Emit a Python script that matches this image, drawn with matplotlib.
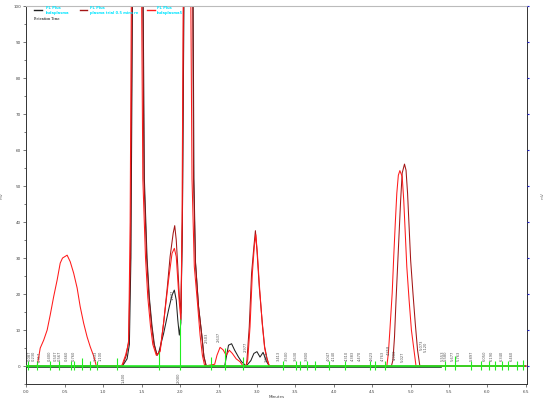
import matplotlib
matplotlib.use("Agg")
import matplotlib.pyplot as plt
from matplotlib.ticker import MultipleLocator

# traces (minutes, mV)
black_pts = [(0.0, 0), (1.25, 0), (1.31, 2), (1.34, 6), (1.36, 30), (1.38, 100), (1.42, 200),
             (1.455, 260), (1.49, 200), (1.52, 100), (1.535, 52), (1.57, 30), (1.60, 19),
             (1.635, 11), (1.665, 6), (1.70, 3), (1.72, 3.6), (1.785, 9), (1.85, 15.6),
             (1.895, 19.7), (1.925, 21.1), (1.95, 18.3), (1.97, 12.8), (1.99, 8.6), (2.01, 12),
             (2.03, 40), (2.05, 100), (2.08, 200), (2.11, 260), (2.14, 200), (2.17, 100),
             (2.18, 52), (2.20, 29), (2.24, 16.5), (2.285, 8), (2.31, 2.6), (2.34, 0),
             (2.58, 0), (2.63, 5.8), (2.67, 6.2), (2.71, 4.4), (2.76, 2.5), (2.80, 1.2),
             (2.86, 0), (2.92, 1.5), (2.96, 3.5), (3.0, 4), (3.04, 2.5), (3.08, 3.8),
             (3.12, 1.5), (3.16, 0), (6.5, 0)]

darkred_pts = [(0.0, 0), (1.25, 0), (1.30, 3), (1.33, 7), (1.355, 30), (1.375, 100), (1.41, 200),
               (1.45, 260), (1.49, 200), (1.515, 100), (1.53, 52), (1.565, 30), (1.595, 19),
               (1.63, 11), (1.66, 6), (1.70, 3), (1.74, 4.4), (1.785, 11.9), (1.83, 21.1),
               (1.87, 30.4), (1.91, 36.9), (1.93, 39), (1.95, 35), (1.97, 27.6), (1.99, 19.3),
               (2.01, 14.7), (2.03, 40), (2.045, 100), (2.08, 200), (2.11, 260), (2.14, 200),
               (2.165, 100), (2.175, 52), (2.20, 28.6), (2.24, 16.5), (2.285, 8.1), (2.31, 2.6),
               (2.34, 0), (2.86, 0), (2.87, 1.7), (2.90, 10.9), (2.93, 25.7), (2.96, 33.1),
               (2.98, 37.6), (3.00, 32.2), (3.03, 22), (3.07, 11.9), (3.10, 5.4), (3.13, 2.2),
               (3.16, 0), (4.75, 0), (4.77, 1.7), (4.79, 8.1), (4.81, 18.3), (4.83, 27.6),
               (4.85, 36.9), (4.87, 46.1), (4.89, 53.6), (4.92, 56.1), (4.94, 54.4), (4.96, 48),
               (4.98, 38.7), (5.00, 29.4), (5.03, 20.3), (5.06, 11.9), (5.09, 4.4), (5.12, 0),
               (6.5, 0)]

red_pts = [(0.0, 0), (0.14, 0), (0.18, 5), (0.225, 7.2), (0.27, 10), (0.31, 14.2), (0.355, 19.3),
           (0.40, 23.9), (0.44, 28.6), (0.47, 30), (0.53, 30.8), (0.57, 29), (0.615, 25.8),
           (0.66, 21.7), (0.70, 16.5), (0.745, 11.9), (0.79, 8.1), (0.83, 5.4), (0.875, 2.8),
           (0.91, 0), (1.22, 0), (1.245, 0.3), (1.29, 3), (1.33, 6.4), (1.35, 40), (1.365, 100),
           (1.40, 200), (1.44, 260), (1.48, 200), (1.50, 100), (1.515, 52), (1.55, 30),
           (1.58, 19), (1.615, 11), (1.645, 6), (1.69, 3), (1.74, 4), (1.79, 12.8), (1.85, 23.9),
           (1.895, 31.3), (1.925, 32.7), (1.95, 30.4), (1.97, 23.9), (1.99, 17.5), (2.01, 12.8),
           (2.025, 40), (2.04, 100), (2.07, 200), (2.10, 260), (2.125, 200), (2.14, 100),
           (2.155, 52), (2.185, 27.6), (2.23, 16.5), (2.26, 8.6), (2.29, 3), (2.32, 0),
           (2.45, 0.5), (2.48, 3), (2.52, 5.2), (2.56, 4.5), (2.60, 3), (2.64, 4.4), (2.68, 3.5),
           (2.73, 2), (2.78, 1.2), (2.82, 0), (2.86, 0), (2.88, 1.7), (2.91, 10.9), (2.94, 25.7),
           (2.965, 33), (2.985, 36.5), (3.005, 31.5), (3.035, 21.5), (3.07, 11.5), (3.10, 5),
           (3.13, 2), (3.16, 0), (4.69, 0), (4.71, 3.5), (4.73, 10), (4.76, 20.3), (4.78, 30.4),
           (4.80, 39.6), (4.82, 48), (4.84, 53), (4.86, 54.3), (4.89, 52.6), (4.91, 46.1),
           (4.93, 36.9), (4.95, 27.6), (4.98, 18.3), (5.01, 10), (5.04, 5), (5.07, 0), (6.5, 0)]

series_names = ["FL Plus\nIndaplasma", "FL Plus\nplasma trial 0.5 mins re", "FL Plus\nIndaplasma5"]
series_colors = ["#222222", "#a31515", "#ff1a1a"]

# integration event marks (minutes, top in mV)
mark_t = [0.02, 0.14, 0.31, 0.43, 0.58, 0.62, 0.73, 0.83, 0.92, 1.18, 1.72, 2.00, 2.40, 2.58,
          2.82, 3.34, 3.51, 3.56, 3.65, 3.75, 3.94, 4.15, 4.47, 4.53, 4.67, 5.45, 5.58, 5.79,
          5.92, 6.02, 6.10, 6.19, 6.27, 6.39, 6.46]
mark_top = [1.4, 1.4, 1.4, 1.4, 1.4, 1.4, 2.2, 1.4, 1.4, 2.2, 4.0, 13.0, 2.5, 5.0,
            2.5, 1.4, 1.4, 1.4, 1.4, 1.4, 1.4, 1.4, 1.4, 1.4, 1.4, 1.4, 2.8, 1.4,
            1.4, 1.4, 1.4, 1.4, 1.4, 1.4, 1.6]

# retention time labels: text, x (minutes), bottom y (mV)
rt_text = ["0.087", "0.230", "0.317", "0.400", "0.507", "0.567", "0.660", "0.760", "1.033",
           "1.100", "1.400", "1.977", "2.000", "2.503", "2.637", "2.977", "3.063", "3.413",
           "3.500", "3.630", "3.800", "4.047", "4.140", "4.310", "4.383", "4.470", "4.623",
           "4.763", "4.858", "4.900", "5.027", "5.073", "5.120", "5.553", "5.580", "5.677",
           "5.763", "5.897", "6.050", "6.190", "6.340", "6.460"]
rt_x = [0.04, 0.095, 0.17, 0.31, 0.38, 0.43, 0.53, 0.62, 0.90, 0.96, 1.27, 1.90, 1.98, 2.35,
        2.50, 2.85, 3.13, 3.28, 3.39, 3.51, 3.65, 3.93, 4.00, 4.17, 4.25, 4.34, 4.50, 4.64,
        4.71, 4.79, 4.90, 5.14, 5.20, 5.42, 5.46, 5.55, 5.63, 5.80, 5.96, 6.06, 6.19, 6.32]
rt_y = [1.5, 1.5, 1.1, 1.5, 1.5, 1.5, 1.5, 1.5, 1.5, 1.5, -1.7, 18.3, -1.7, 6.4, 6.7, 3.9, 1.1,
        1.5, 1.5, 1.5, 1.5, 1.5, 1.5, 1.5, 1.5, 1.5, 1.5, 1.5, 3.0, 1.7, 1.2, 4.4, 3.8, 1.5,
        1.5, 1.5, 1.5, 1.5, 1.5, 1.5, 1.5, 1.5]

fig = plt.figure(figsize=(5.5, 4.03), dpi=100)
ax = fig.add_axes([0.048, 0.047, 0.911, 0.938])

for pts, col in zip([black_pts, darkred_pts, red_pts], series_colors):
    t = [p[0] for p in pts]
    v = [p[1] for p in pts]
    ax.plot(t, v, color=col, lw=0.75, zorder=2)

# baseline: dark underlay with bright green on top
ax.plot([0.0, 5.4], [-0.25, -0.25], color="#1f4a1f", lw=1.2, zorder=3)
ax.plot([0.0, 6.48], [0.15, 0.15], color="#22ee22", lw=1.2, zorder=3)
ax.vlines(mark_t, -1.1, mark_top, color="#22ee22", lw=0.8, zorder=3)

for s, x, y in zip(rt_text, rt_x, rt_y):
    va = "top" if y < 0 else "bottom"
    ax.text(x, y, s, rotation=90, fontsize=2.6, color="#555555", ha="center", va=va, zorder=4)

# legend drawn by hand, like the instrument software
hx = [(0.015, 0.031), (0.107, 0.121), (0.241, 0.257)]
tx = [0.039, 0.127, 0.260]
for (x0, x1), x, name, col in zip(hx, tx, series_names, series_colors):
    ax.plot([x0, x1], [0.989, 0.989], color=col, lw=1.0, transform=ax.transAxes, clip_on=False)
    ax.text(x, 0.989, name, transform=ax.transAxes, fontsize=2.6, color="#00e5ff",
            fontweight="bold", va="center", ha="left", linespacing=1.3)
ax.text(0.015, 0.965, "Retention Time", transform=ax.transAxes, fontsize=2.3,
        family="serif", va="center", ha="left")

ax.set_xlim(0.0, 6.52)
ax.set_ylim(-5, 100)
ax.xaxis.set_major_locator(MultipleLocator(0.5))
ax.yaxis.set_major_locator(MultipleLocator(10))
ax.yaxis.set_minor_locator(MultipleLocator(5))
ax.xaxis.set_major_formatter(plt.FormatStrFormatter("%.1f"))
ax.tick_params(axis="both", which="major", labelsize=3, length=2.5, width=0.5,
               colors="#444444", pad=1.5)
ax.tick_params(axis="y", which="minor", length=1.5, width=0.5, colors="#444444")
ax.set_xlabel("Minutes", fontsize=3, color="#444444", labelpad=1)
ax.set_ylabel("mV", fontsize=3, color="#777777", labelpad=7)

for side in ["left", "bottom", "right"]:
    ax.spines[side].set_color("#333333")
    ax.spines[side].set_linewidth(0.7)
ax.spines["top"].set_color("#bbbbbb")
ax.spines["top"].set_linewidth(0.8)

ax2 = ax.twinx()
ax2.set_ylim(-5, 100)
ax2.yaxis.set_major_locator(MultipleLocator(10))
ax2.tick_params(axis="y", length=1.5, width=0.8, colors="#2222cc", labelright=False)
ax2.set_ylabel("mV", fontsize=3, color="#777777", labelpad=8)
for side in ax2.spines:
    ax2.spines[side].set_visible(False)

fig.savefig("out.png", dpi=100)
